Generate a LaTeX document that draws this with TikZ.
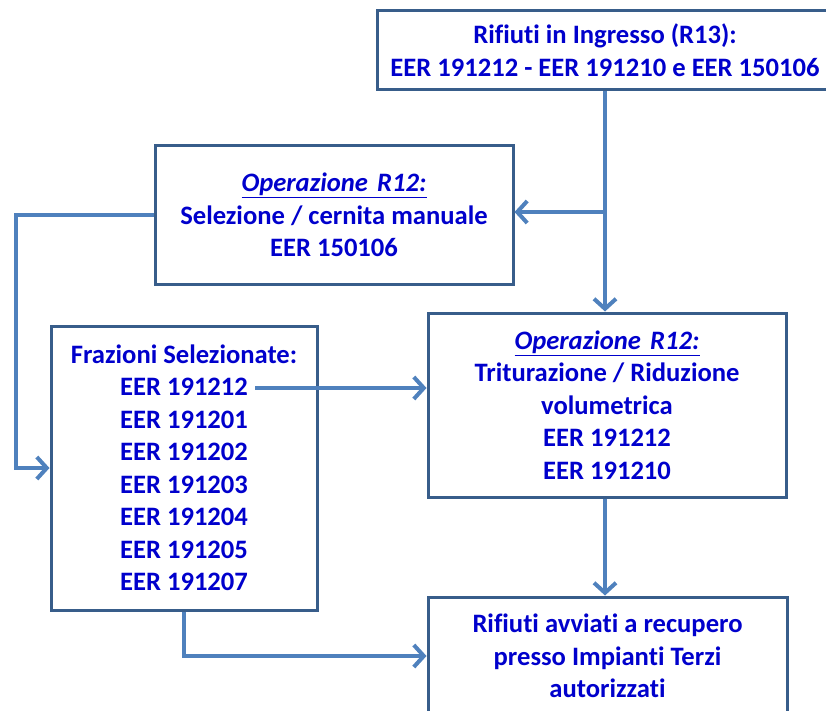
\documentclass[tikz,border=0pt]{standalone}
\usepackage{fontspec}
\setmainfont[Ligatures=NoCommon]{Carlito}
\usetikzlibrary{arrows.meta}
\definecolor{txtblue}{RGB}{0,0,204}
\definecolor{boxline}{RGB}{56,93,138}
\definecolor{arrline}{RGB}{79,129,189}
\tikzset{
  box/.style={draw=boxline, line width=3pt, fill=white, text=txtblue, align=center,
    inner sep=0pt, font=\fontsize{26.6}{32.5}\selectfont\bfseries},
  arr/.style={draw=arrline, line width=4pt, line join=miter,
    -{Straight Barb[length=10pt,width=22pt]}}
}
\newcommand{\opr}{\underline{\itshape Operazione\hspace{0.12em} R12:}}
\begin{document}
\begin{tikzpicture}[x=1pt,y=-1pt]
\useasboundingbox (0,0) rectangle (826,711);
\node[box, minimum width=456pt, minimum height=79pt] (b1) at (605,50)
  {Rifiuti in Ingresso (R13):\\EER 191212 - EER 191210 e EER 150106};
\node[box, minimum width=358pt, minimum height=138pt] (b2) at (334,215)
  {\opr\\Selezione / cernita manuale\\EER 150106};
\node[box, minimum width=358pt, minimum height=184pt] (b3) at (607,405)
  {\opr\\Triturazione / Riduzione\\volumetrica\\EER 191212\\EER 191210};
\node[box, minimum width=266pt, minimum height=284pt] (b4) at (184,468)
  {Frazioni Selezionate:\\EER 191212\\EER 191201\\EER 191202\\EER 191203\\EER 191204\\EER 191205\\EER 191207};
\node[box, minimum width=359pt, minimum height=118pt] (b5) at (607.5,656)
  {Rifiuti avviati a recupero\\presso Impianti Terzi\\autorizzati};
\coordinate (j) at (605,212);
\coordinate (s) at (255,388);
\coordinate (lft) at (16,215);
\draw[arr] (b1.south -| j) -- (b3.north -| j);
\draw[arr] (j) -- (b2.east |- j);
\draw[arr] (b2.west) -- (lft) |- (b4.west);
\draw[arr] (s) -- (s -| b3.west);
\draw[arr] (b3.south -| j) -- (b5.north -| j);
\draw[arr] (b4.south) |- (b5.west);
\end{tikzpicture}
\end{document}
